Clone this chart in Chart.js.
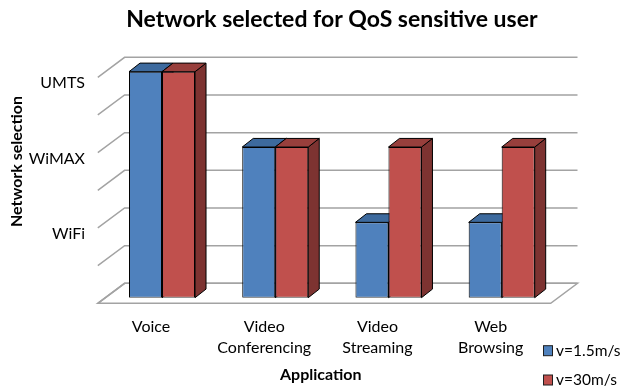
<!DOCTYPE html>
<html>
<head>
<meta charset="utf-8">
<script src="https://cdn.jsdelivr.net/npm/chart.js@4/dist/chart.umd.min.js"></script>
<style>
  html, body { margin: 0; padding: 0; background: #ffffff; }
  canvas { display: block; }
</style>
</head>
<body>
<canvas id="chart" width="628" height="392"></canvas>
<script>
// Applications on the category axis (multi-line labels)
const applications = [['Voice'], ['Video', 'Conferencing'], ['Video', 'Streaming'], ['Web', 'Browsing']];
// Network chosen per level of the value axis
const networkLevels = ['', 'WiFi', 'WiMAX', 'UMTS'];
// Selected network level per application for each user speed
const slowUser = [3, 2, 1, 1];
const fastUser = [3, 2, 2, 2];
const seriesNames = ['v=1.5m/s', 'v=30m/s'];

const FRONT = ['#4F81BD', '#C0504D'];
const TOP = ['#3D6A9E', '#983F3C'];
const SIDE = ['#375C88', '#7D3331'];

// Pseudo-3D geometry offsets (pixels) relative to the bar front plane
const BAR_DX = 11, BAR_DY = -8.6;      // depth of each bar
const WALL_DX = 19.2, WALL_DY = -14.4; // back wall
const EDGE_DX = -7.6, EDGE_DY = 5.6;   // front edge of floor / side wall

const depthPlugin = {
  id: 'depth3d',
  beforeDatasetsDraw(chart) {
    const ctx = chart.ctx;
    const area = chart.chartArea;
    const y = chart.scales.y;
    ctx.save();
    // floor
    const y0 = y.getPixelForValue(0);
    ctx.beginPath();
    ctx.moveTo(area.left + WALL_DX, y0 + WALL_DY);
    ctx.lineTo(area.right + WALL_DX, y0 + WALL_DY);
    ctx.lineTo(area.right + EDGE_DX, y0 + EDGE_DY);
    ctx.lineTo(area.left + EDGE_DX, y0 + EDGE_DY);
    ctx.closePath();
    ctx.fillStyle = '#ffffff';
    ctx.fill();
    ctx.strokeStyle = '#a3a3a3';
    ctx.lineWidth = 1.5;
    ctx.stroke();
    // back wall and side wall grid lines
    y.ticks.forEach(t => {
      const py = y.getPixelForValue(t.value);
      ctx.beginPath();
      ctx.moveTo(area.left + EDGE_DX, py + EDGE_DY);
      ctx.lineTo(area.left + WALL_DX, py + WALL_DY);
      ctx.lineTo(area.right + WALL_DX, py + WALL_DY);
      ctx.stroke();
    });
    // top and side faces of each bar
    ctx.strokeStyle = '#000000';
    ctx.lineWidth = 1;
    ctx.lineJoin = 'round';
    chart.data.datasets.forEach((ds, di) => {
      chart.getDatasetMeta(di).data.forEach(el => {
        const p = el.getProps(['x', 'y', 'base', 'width'], true);
        const l = p.x - p.width / 2, r = p.x + p.width / 2;
        ctx.beginPath();
        ctx.moveTo(r, p.y);
        ctx.lineTo(r + BAR_DX, p.y + BAR_DY);
        ctx.lineTo(r + BAR_DX, p.base + BAR_DY);
        ctx.lineTo(r, p.base);
        ctx.closePath();
        ctx.fillStyle = SIDE[di];
        ctx.fill();
        ctx.stroke();
        ctx.beginPath();
        ctx.moveTo(l, p.y);
        ctx.lineTo(r, p.y);
        ctx.lineTo(r + BAR_DX, p.y + BAR_DY);
        ctx.lineTo(l + BAR_DX, p.y + BAR_DY);
        ctx.closePath();
        ctx.fillStyle = TOP[di];
        ctx.fill();
        ctx.stroke();
      });
    });
    ctx.restore();
  },
  afterDraw(chart) {
    const ctx = chart.ctx;
    ctx.save();
    ctx.fillStyle = '#000000';
    ctx.textAlign = 'center';
    ctx.textBaseline = 'middle';
    ctx.font = 'bold 16px Lato';
    ctx.fillText('Application', 320.8, 375);
    ctx.save();
    ctx.translate(16.5, 161.5);
    ctx.rotate(-Math.PI / 2);
    ctx.fillText('Network selection', 0, 0);
    ctx.restore();
    // legend
    ctx.textAlign = 'left';
    ctx.font = '15.5px Lato';
    const rows = [350.7, 380];
    chart.data.datasets.forEach((ds, i) => {
      const cy = rows[i];
      ctx.fillStyle = ds.backgroundColor;
      ctx.fillRect(543.5, cy - 5, 9, 10);
      ctx.strokeStyle = '#1f1f1f';
      ctx.lineWidth = 1;
      ctx.strokeRect(543.5, cy - 5, 9, 10);
      ctx.fillStyle = '#000000';
      ctx.fillText(ds.label, 556, cy);
    });
    ctx.restore();
  }
};

Chart.defaults.font.family = 'Lato';
Chart.defaults.color = '#000000';

new Chart(document.getElementById('chart'), {
  type: 'bar',
  data: {
    labels: applications,
    datasets: [
      { label: seriesNames[0], data: slowUser, backgroundColor: FRONT[0] },
      { label: seriesNames[1], data: fastUser, backgroundColor: FRONT[1] }
    ]
  },
  options: {
    responsive: false,
    animation: false,
    layout: { padding: { left: 0, right: 69.7, top: 0, bottom: 0 } },
    datasets: {
      bar: {
        categoryPercentage: 0.583,
        barPercentage: 1,
        borderColor: '#000000',
        borderWidth: 1,
        borderSkipped: false
      }
    },
    plugins: {
      legend: { display: false },
      tooltip: { enabled: false },
      title: {
        display: true,
        text: 'Network selected for QoS sensitive user',
        fullSize: false,
        color: '#000000',
        font: { size: 23, weight: 'bold', lineHeight: 1.2 },
        padding: { top: 6.2, bottom: 37.9 }
      }
    },
    scales: {
      x: {
        grid: { display: false, drawTicks: false },
        border: { display: false },
        ticks: {
          autoSkip: false, maxRotation: 0, padding: 18.2, labelOffset: -11,
          color: '#000000', font: { size: 16, lineHeight: 1.35 }
        },
        afterFit: s => { s.height = 94.3; }
      },
      y: {
        min: 0, max: 3,
        grid: { display: false, drawTicks: false },
        border: { display: false },
        ticks: {
          stepSize: 0.5, autoSkip: false, padding: 20.4, labelOffset: 11.5,
          color: '#000000', font: { size: 16 },
          callback: v => Number.isInteger(v) ? networkLevels[v] : ''
        },
        afterFit: s => { s.width = 105.4; }
      }
    }
  },
  plugins: [depthPlugin]
});
</script>
</body>
</html>
